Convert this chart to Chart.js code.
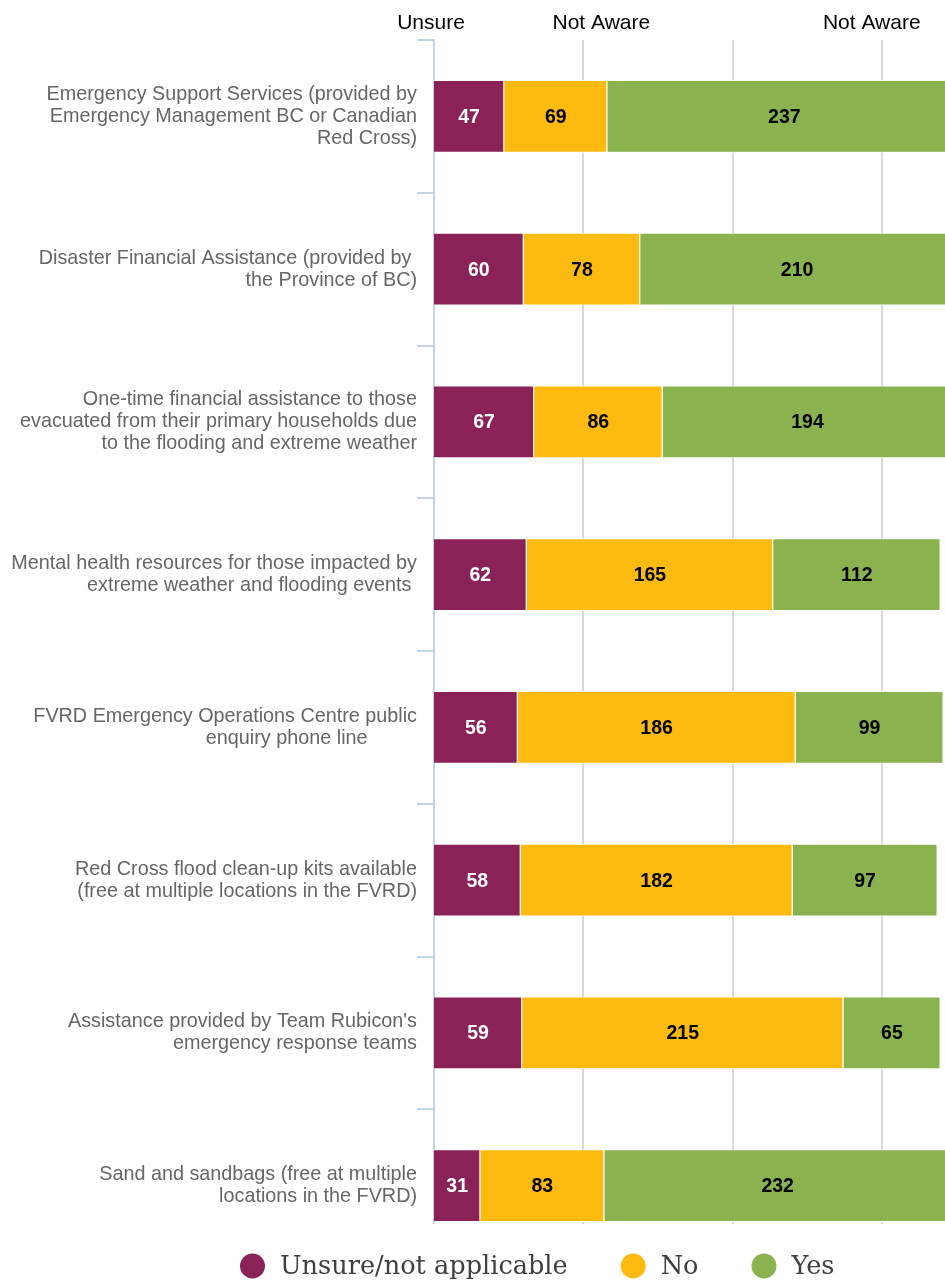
<!DOCTYPE html>
<html><head><meta charset="utf-8">
<script src="https://cdn.jsdelivr.net/npm/chart.js@4"></script>
<style>html,body{margin:0;padding:0;background:#fff}#wrap{width:945px;height:1281px}</style>
</head><body><div id="wrap"><canvas id="c" width="945" height="1281"></canvas></div>
<script>
const categories = [
  ["Emergency Support Services (provided by", "Emergency Management BC or Canadian", "Red Cross)"],
  ["Disaster Financial Assistance (provided by ", "the Province of BC)"],
  ["One-time financial assistance to those", "evacuated from their primary households due", "to the flooding and extreme weather"],
  ["Mental health resources for those impacted by", "extreme weather and flooding events "],
  ["FVRD Emergency Operations Centre public", "enquiry phone line         "],
  ["Red Cross flood clean-up kits available", "(free at multiple locations in the FVRD)"],
  ["Assistance provided by Team Rubicon's", "emergency response teams"],
  ["Sand and sandbags (free at multiple", "locations in the FVRD)"]
];
const seriesNames = ["Unsure/not applicable", "No", "Yes"];
const unsure = [47, 60, 67, 62, 56, 58, 59, 31];
const no = [69, 78, 86, 165, 186, 182, 215, 83];
const yes = [237, 210, 194, 112, 99, 97, 65, 232];
const gridValues = [100, 200, 300];
const topTickValues = [-2, 112, 293];
const topTickLabels = ["Unsure", "Not Aware", "Not Aware"];

const colors = ["#8a2157", "#fdbb11", "#8ab350"];
const labelColors = ["#ffffff", "#000000", "#000000"];
const SANS = "'Liberation Sans', Arial, sans-serif";
const SERIF = "'DejaVu Serif', serif";

const coverPlugin = {
  id: 'cover',
  beforeDatasetsDraw(chart) {
    const ctx = chart.ctx;
    ctx.save();
    ctx.fillStyle = '#ffffff';
    ctx.fillRect(0, 1224, chart.width, chart.chartArea.bottom - 1224 + 3);
    ctx.restore();
  }
};

const valueLabels = {
  id: 'valueLabels',
  afterDatasetsDraw(chart) {
    const ctx = chart.ctx;
    ctx.save();
    ctx.font = "bold 19.5px " + SANS;
    ctx.textAlign = 'center';
    ctx.textBaseline = 'middle';
    chart.data.datasets.forEach((ds, di) => {
      const meta = chart.getDatasetMeta(di);
      meta.data.forEach((bar, i) => {
        const cx = (bar.x + bar.base) / 2;
        ctx.fillStyle = labelColors[di];
        ctx.fillText(String(ds.data[i]), cx, bar.y + 1);
      });
    });
    ctx.restore();
  }
};

const customLegend = {
  id: 'customLegend',
  afterDraw(chart) {
    const ctx = chart.ctx;
    ctx.save();
    ctx.font = "25.6px " + SERIF;
    ctx.textBaseline = 'middle';
    ctx.textAlign = 'left';
    let x = 240;
    const cy = 1266;
    seriesNames.forEach((name, i) => {
      ctx.fillStyle = colors[i];
      ctx.beginPath();
      ctx.arc(x + 12.5, cy, 12.5, 0, Math.PI * 2);
      ctx.fill();
      ctx.fillStyle = '#404040';
      const tx = x + 40;
      ctx.fillText(name, tx, cy + 1);
      x = tx + ctx.measureText(name).width + 53;
    });
    ctx.restore();
  }
};

new Chart(document.getElementById('c'), {
  type: 'bar',
  data: {
    labels: categories,
    datasets: [
      { label: seriesNames[0], data: unsure, backgroundColor: colors[0] },
      { label: seriesNames[1], data: no, backgroundColor: colors[1] },
      { label: seriesNames[2], data: yes, backgroundColor: colors[2] }
    ].map(d => Object.assign(d, { borderColor: '#ffffff', borderWidth: 1, barPercentage: 0.955, categoryPercentage: 0.5 }))
  },
  options: {
    indexAxis: 'y',
    responsive: false,
    animation: false,
    devicePixelRatio: 1,
    layout: { padding: { top: 0, right: 0, bottom: 19, left: 0 } },
    plugins: { legend: { display: false }, tooltip: { enabled: false } },
    scales: {
      x: {
        type: 'linear', position: 'top', stacked: true, min: 0, max: 342,
        afterBuildTicks: s => { s.ticks = gridValues.map(v => ({ value: v })); },
        afterFit: s => { s.height = 0; s.paddingLeft = 0; s.paddingRight = 0; },
        grid: { color: '#d9d9d9', lineWidth: 2, drawTicks: false },
        border: { display: false },
        ticks: { display: false }
      },
      x2: {
        type: 'linear', position: 'top', min: 0, max: 342,
        afterBuildTicks: s => { s.ticks = topTickValues.map(v => ({ value: v })); },
        afterFit: s => { s.height = 40; s.paddingLeft = 0; s.paddingRight = 0; },
        grid: { display: false, drawTicks: false },
        border: { display: false },
        ticks: {
          autoSkip: false, maxRotation: 0, padding: 4, color: '#000000',
          font: { family: SANS, size: 21 },
          callback: (v, i) => topTickLabels[i]
        }
      },
      y: {
        stacked: true,
        afterFit: s => { s.width = 434; s.paddingTop = 0; s.paddingBottom = 0; },
        grid: { drawOnChartArea: false, drawTicks: true, tickLength: 17, color: '#c5d3e3', lineWidth: 2, offset: true },
        border: { display: true, color: '#c5d3e3', width: 2 },
        ticks: { padding: 0, color: '#666666', autoSkip: false, font: { family: SANS, size: 19.8, lineHeight: 1.11 } }
      }
    }
  },
  plugins: [coverPlugin, valueLabels, customLegend]
});
</script>
</body></html>
